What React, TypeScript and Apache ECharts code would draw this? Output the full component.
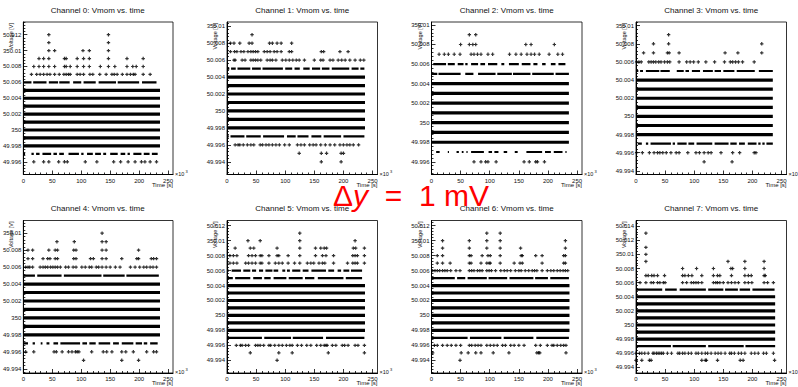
import React, { useEffect, useRef } from "react";
import * as echarts from "echarts";

const FONT = "'Liberation Sans', Arial, Helvetica, sans-serif";

const channelTitles = [
  "Channel 0: Vmom vs. time",
  "Channel 1: Vmom vs. time",
  "Channel 2: Vmom vs. time",
  "Channel 3: Vmom vs. time",
  "Channel 4: Vmom vs. time",
  "Channel 5: Vmom vs. time",
  "Channel 6: Vmom vs. time",
  "Channel 7: Vmom vs. time",
];

// time axis in units of 10^3 s; voltage in mV offset from 350 V
const tEnd = [236, 237, 236, 235, 236, 237, 237, 239];
const yMin = [-5.6, -7.5, -5.3, -6.4, -6.5, -7.7, -7.7, -6.8];
const yMax = [13.6, 10.5, 10.3, 10.4, 11.5, 12.7, 12.7, 14.8];
const xMax = 258.5;

const xTickValues = [0, 50, 100, 150, 200, 250];
const xTickLabels = ["0", "50", "100", "150", "200", "250"];
const xMinorTickValues = [10, 20, 30, 40, 60, 70, 80, 90, 110, 120, 130, 140, 160, 170, 180, 190, 210, 220, 230, 240];
const yTickValues = [-6, -4, -2, 0, 2, 4, 6, 8, 10, 12, 14];
const yTickLabels = ["49.994", "49.996", "49.998", "350", "50.002", "50.004", "50.006", "50.008", "350.01", "50.012", "50.014"];

type Runs = [number, number[][]][];
type Pts = [number, number[]][];

// ---------- Channel 0 ----------
const ch0Dense = [5, 4, 3, 2, 1, 0, -1, -2];
const ch0Runs: Runs = [
  [6, [[0, 14], [17, 40], [44, 60], [62, 80], [86, 100], [104, 125], [130, 160], [163, 200], [205, 230]]],
  [-3, [[0, 3], [14, 18], [22, 28], [33, 48], [52, 58], [62, 70], [78, 96], [100, 104], [110, 120], [124, 134], [138, 143], [150, 163], [168, 176], [180, 184], [190, 204], [208, 218], [222, 232]]],
];
const ch0Pts: Pts = [
  [12, [44, 147]],
  [11, [44, 147]],
  [10, [44, 54, 103, 114, 147]],
  [9, [27, 35, 44, 71, 74, 93, 104, 114, 147, 179, 207]],
  [8, [18, 27, 35, 44, 54, 71, 74, 81, 93, 104, 114, 133, 147, 158, 179, 189, 195, 207]],
  [7, [14, 23, 29, 35, 41, 46, 54, 62, 70, 74, 78, 81, 93, 98, 104, 115, 120, 132, 143, 153, 157, 162, 171, 179, 185, 190, 193, 207, 219]],
  [-4, [18, 35, 44, 61, 71, 76, 107, 127, 156, 168, 181, 193, 204, 210, 219, 230]],
];

// ---------- Channel 1 ----------
const ch1Dense = [4, 3, 2, 1, 0, -1, -2];
const ch1Runs: Runs = [
  [5, [[0, 4], [7, 15], [18, 40], [43, 58], [61, 96], [100, 112], [116, 125], [131, 142], [146, 160], [163, 176], [180, 210], [214, 226], [229, 236]]],
  [-3, [[0, 3], [6, 30], [33, 58], [62, 98], [103, 118], [121, 140], [145, 162], [166, 196], [200, 236]]],
];
const ch1Pts: Pts = [
  [9, [43]],
  [8, [6, 12, 22, 38, 43, 73, 78, 86, 93, 111]],
  [7, [6, 13, 17, 24, 29, 36, 41, 45, 49, 53, 64, 69, 74, 81, 86, 93, 107, 111, 162, 166, 194, 208]],
  [6, [12, 14, 26, 31, 41, 45, 49, 53, 58, 69, 74, 78, 84, 95, 101, 107, 113, 119, 124, 133, 150, 161, 165, 177, 182, 191, 197, 203, 211, 220, 229, 235]],
  [-4, [14, 19, 22, 28, 35, 41, 46, 57, 61, 67, 72, 78, 84, 90, 99, 107, 121, 127, 133, 142, 148, 153, 161, 169, 177, 185, 194, 200, 206, 211, 217, 226]],
  [-5, [124, 162, 171, 196, 200]],
  [-6, [162, 196]],
];

// ---------- Channel 2 ----------
const ch2Dense = [4, 3, 2, 1, 0, -1, -2];
const ch2Runs: Runs = [
  [6, [[3, 25], [28, 40], [45, 55], [58, 62], [68, 80], [84, 92], [97, 113], [120, 125], [133, 150], [155, 170], [175, 182], [190, 196], [205, 213], [218, 230]]],
  [5, [[0, 10], [12, 50], [58, 72], [80, 110], [113, 138], [140, 170], [173, 210], [213, 236]]],
  [-3, [[8, 14], [28, 30], [43, 47], [52, 55], [60, 62], [68, 90], [98, 104], [108, 115], [124, 130], [143, 148], [163, 190], [195, 205], [210, 225], [230, 232]]],
];
const ch2Pts: Pts = [
  [9, [65, 76]],
  [8, [50, 65, 71, 76, 162, 171, 211]],
  [7, [13, 22, 29, 39, 49, 68, 73, 79, 85, 97, 105, 134, 145, 154, 164, 171, 177, 185, 202, 217, 225]],
  [-4, [73, 85, 93, 97, 111, 159, 168, 179, 182, 194]],
];

// ---------- Channel 3 ----------
const ch3Dense = [4, 3, 2, 1, 0, -1, -2];
const ch3Runs: Runs = [
  [5, [[0, 4], [7, 12], [17, 40], [42, 58], [70, 82], [85, 91], [96, 110], [115, 132], [135, 146], [150, 169], [173, 204], [211, 235]]],
  [-3, [[3, 10], [17, 21], [25, 60], [63, 67], [71, 87], [90, 100], [104, 131], [135, 159], [162, 173], [177, 187], [192, 207], [210, 214], [217, 221], [224, 235]]],
];
const ch3Pts: Pts = [
  [9, [56]],
  [8, [30, 56, 216]],
  [7, [13, 30, 54, 57, 74, 153, 175, 216]],
  [6, [1, 5, 9, 22, 26, 30, 34, 39, 43, 49, 54, 58, 74, 87, 93, 99, 107, 120, 135, 152, 162, 166, 171, 176, 183, 203]],
  [-4, [1, 11, 23, 31, 37, 41, 46, 52, 60, 69, 74, 89, 103, 109, 117, 124, 129, 146, 166, 178, 203, 206]],
  [-5, [117, 165]],
];

// ---------- Channel 4 ----------
const ch4Dense = [4, 3, 2, 1, 0, -1, -2];
const ch4Runs: Runs = [
  [5, [[0, 20], [24, 66], [70, 135], [138, 175], [178, 234]]],
  [-3, [[0, 8], [16, 20], [30, 33], [40, 45], [52, 60], [64, 98], [102, 110], [114, 125], [130, 150], [155, 165], [170, 190], [194, 205], [208, 214], [219, 232]]],
];
const ch4Pts: Pts = [
  [10, [136]],
  [9, [58, 88, 136, 143]],
  [8, [8, 16, 44, 55, 59, 87, 91, 136, 143, 199]],
  [7, [8, 16, 34, 42, 46, 55, 59, 87, 91, 116, 121, 136, 143, 170, 196, 199, 221, 225, 230]],
  [6, [4, 8, 11, 16, 29, 34, 38, 42, 47, 51, 55, 59, 64, 73, 78, 86, 91, 101, 107, 114, 118, 126, 130, 136, 143, 150, 159, 167, 185, 193, 201, 208, 213, 219, 224, 230]],
  [-4, [4, 18, 53, 57, 67, 78, 84, 90, 93, 96, 118, 138, 144, 153, 170, 177, 190, 213, 225, 230]],
  [-5, [104, 170, 199]],
];

// ---------- Channel 5 ----------
const ch5Dense = [4, 3, 2, 1, 0, -1, -2];
const ch5Runs: Runs = [
  [6, [[0, 3], [8, 24], [28, 40], [43, 50], [55, 62], [66, 78], [80, 88], [95, 100], [103, 108], [112, 126], [130, 140], [145, 170], [174, 184], [190, 196], [200, 210], [213, 232]]],
  [5, [[0, 10], [14, 40], [45, 60], [64, 75], [80, 102], [106, 130], [134, 150], [156, 200], [204, 232]]],
  [-3, [[0, 60], [64, 110], [113, 165], [170, 236]]],
];
const ch5Pts: Pts = [
  [11, [125]],
  [10, [36, 57, 125, 220]],
  [9, [14, 40, 46, 86, 125, 152, 161, 167, 171, 217, 221, 236]],
  [8, [5, 11, 17, 37, 43, 49, 57, 60, 72, 86, 89, 105, 125, 152, 164, 170, 183, 216, 220, 224, 236]],
  [7, [5, 11, 17, 32, 37, 43, 49, 57, 60, 72, 83, 89, 95, 105, 116, 125, 138, 144, 149, 158, 164, 168, 183, 207, 216, 220, 224, 236]],
  [-4, [16, 23, 26, 32, 37, 49, 53, 57, 63, 72, 75, 82, 89, 95, 102, 108, 112, 121, 128, 137, 144, 154, 161, 167, 170, 172, 181, 187, 198, 202, 208, 220, 225, 236]],
  [-5, [40, 89, 112, 174, 236]],
  [-6, [86]],
];

// ---------- Channel 6 ----------
const ch6Dense = [4, 3, 2, 1, 0, -1, -2];
const ch6Runs: Runs = [
  [5, [[0, 40], [44, 58], [62, 95], [98, 130], [134, 175], [178, 200], [204, 236]]],
  [-3, [[0, 62], [66, 120], [124, 175], [180, 236]]],
];
const ch6Pts: Pts = [
  [11, [95, 118]],
  [10, [19, 65, 95, 118, 230]],
  [9, [19, 65, 95, 118, 153, 230]],
  [8, [10, 19, 65, 68, 87, 97, 101, 118, 154, 156, 179, 190, 227, 230]],
  [7, [10, 19, 32, 65, 68, 85, 95, 99, 101, 118, 142, 152, 156, 190, 227, 230]],
  [6, [2, 6, 10, 14, 19, 23, 27, 33, 42, 49, 65, 69, 73, 79, 83, 87, 95, 99, 103, 110, 119, 125, 130, 136, 144, 150, 154, 161, 167, 173, 177, 181, 190, 199, 205, 210, 216, 221, 226, 230, 234]],
  [-4, [5, 10, 19, 27, 34, 42, 50, 65, 69, 75, 80, 85, 95, 101, 107, 113, 122, 127, 136, 142, 150, 159, 179, 187, 199, 207, 210, 216, 222, 227, 231]],
  [-5, [2, 51, 63, 76, 85, 106, 133, 181, 184, 186, 231]],
  [-6, [49]],
];

// ---------- Channel 7 ----------
const ch7Dense = [4, 3, 2, 1, 0, -1, -2];
const ch7Runs: Runs = [
  [5, [[0, 45], [50, 70], [75, 120], [124, 150], [153, 175], [178, 196], [200, 238]]],
  [-3, [[0, 60], [63, 120], [124, 185], [188, 239]]],
];
const ch7Pts: Pts = [
  [13, [17]],
  [11, [17]],
  [10, [17]],
  [9, [17, 158, 187, 220]],
  [8, [80, 104, 133, 163, 166, 187, 220]],
  [7, [17, 21, 27, 31, 37, 49, 80, 84, 90, 96, 113, 133, 140, 144, 164, 187, 193, 198, 220, 222]],
  [6, [7, 17, 26, 30, 37, 41, 47, 50, 80, 87, 95, 99, 103, 107, 113, 133, 137, 140, 144, 150, 158, 164, 170, 176, 187, 193, 199, 220, 226, 236]],
  [-4, [0, 6, 10, 15, 21, 29, 31, 35, 38, 41, 44, 47, 54, 61, 72, 75, 80, 84, 90, 95, 103, 107, 113, 119, 123, 129, 136, 141, 146, 153, 161, 164, 169, 176, 181, 187, 198, 204, 210, 219, 224, 236]],
  [-5, [0, 10, 23, 26, 113, 119, 121, 140, 179, 184, 238]],
];

const allDense = [ch0Dense, ch1Dense, ch2Dense, ch3Dense, ch4Dense, ch5Dense, ch6Dense, ch7Dense];
const allRuns = [ch0Runs, ch1Runs, ch2Runs, ch3Runs, ch4Runs, ch5Runs, ch6Runs, ch7Runs];
const allPts = [ch0Pts, ch1Pts, ch2Pts, ch3Pts, ch4Pts, ch5Pts, ch6Pts, ch7Pts];

// layout
const colLeft = [22.5, 227, 431.5, 636];
const rowTop = [22, 220.5];
const frameW = 150.5;
const frameH = 152.5;

const CROSS = "path://M2.6,0H5.4V2.6H8V5.4H5.4V8H2.6V5.4H0V2.6H2.6Z";

function buildOption() {
  const grid: any[] = [];
  const xAxis: any[] = [];
  const yAxis: any[] = [];
  const series: any[] = [];
  const graphic: any[] = [];

  for (let i = 0; i < 8; i++) {
    const col = i % 4;
    const row = Math.floor(i / 4);
    const left = colLeft[col];
    const top = rowTop[row];
    grid.push({
      left, top, width: frameW, height: frameH,
      show: true, borderColor: "#000", borderWidth: 0.8, backgroundColor: "#fff",
    });
    const majorY = yTickValues.filter((v) => v >= yMin[i] && v <= yMax[i]);
    const minorY: number[] = [];
    for (let k = Math.ceil(yMin[i] / 0.4); k <= Math.floor(yMax[i] / 0.4); k++) {
      const v = Math.round(k * 4) / 10;
      if (Math.abs(v / 2 - Math.round(v / 2)) > 1e-6) minorY.push(v);
    }
    const common = { gridIndex: i, splitLine: { show: false } };
    xAxis.push({
      ...common, type: "value", position: "bottom", min: 0, max: xMax,
      axisLine: { show: true, onZero: false, lineStyle: { color: "#000", width: 1 } },
      axisTick: { show: true, inside: true, length: 4, customValues: xTickValues, lineStyle: { color: "#000", width: 0.8 } },
      axisLabel: {
        show: true, customValues: xTickValues, fontSize: 6, color: "#111", margin: 3, fontFamily: FONT,
        formatter: (v: number) => xTickLabels[xTickValues.indexOf(Math.round(v))] ?? "",
      },
    });
    xAxis.push({
      ...common, type: "value", position: "bottom", min: 0, max: xMax,
      axisLine: { show: false, onZero: false },
      axisTick: { show: true, inside: true, length: 2, customValues: xMinorTickValues, lineStyle: { color: "#000", width: 0.8 } },
      axisLabel: { show: false },
    });
    yAxis.push({
      ...common, type: "value", position: "left", min: yMin[i], max: yMax[i],
      axisLine: { show: true, onZero: false, lineStyle: { color: "#000", width: 1 } },
      axisTick: { show: true, inside: true, length: 4, customValues: majorY, lineStyle: { color: "#000", width: 0.8 } },
      axisLabel: {
        show: true, customValues: majorY, fontSize: 6, color: "#111", margin: 2, fontFamily: FONT,
        formatter: (v: number) => yTickLabels[yTickValues.indexOf(Math.round(v))] ?? "",
      },
    });
    yAxis.push({
      ...common, type: "value", position: "left", min: yMin[i], max: yMax[i],
      axisLine: { show: false, onZero: false },
      axisTick: { show: true, inside: true, length: 2, customValues: minorY, lineStyle: { color: "#000", width: 0.8 } },
      axisLabel: { show: false },
    });

    const denseData: any[] = [];
    allDense[i].forEach((lvl) => {
      denseData.push([0, lvl], [tEnd[i], lvl], [tEnd[i], "-"]);
    });
    const runData: any[] = [];
    allRuns[i].forEach(([lvl, runs]) => {
      runs.forEach(([a, b]) => {
        runData.push([a, lvl], [b, lvl], [b, "-"]);
      });
    });
    const ptData: any[] = [];
    allPts[i].forEach(([lvl, xs]) => xs.forEach((x) => ptData.push([x, lvl])));

    series.push({
      type: "line", xAxisIndex: 2 * i, yAxisIndex: 2 * i, data: denseData,
      symbol: "none", showSymbol: false, connectNulls: false, silent: true,
      lineStyle: { color: "#000", width: 3.2 },
    });
    series.push({
      type: "line", xAxisIndex: 2 * i, yAxisIndex: 2 * i, data: runData,
      symbol: "none", showSymbol: false, connectNulls: false, silent: true,
      lineStyle: { color: "#000", width: 2.2 },
    });
    series.push({
      type: "scatter", xAxisIndex: 2 * i, yAxisIndex: 2 * i, data: ptData,
      symbol: CROSS, symbolSize: 3.4, silent: true,
      itemStyle: { color: "#000" },
    });

    // texts
    graphic.push({
      type: "text", x: left + frameW / 2, y: top - (row === 0 ? 11.5 : 12.5),
      style: { text: channelTitles[i], fontSize: 8, fontFamily: FONT, fill: "#111", align: "center", verticalAlign: "middle" },
    });
    graphic.push({
      type: "text", x: left - 12, y: top + 1, rotation: Math.PI / 2,
      style: { text: "Voltage [V]", fontSize: 5.5, fontFamily: FONT, fill: "#111", align: "right", verticalAlign: "middle" },
    });
    graphic.push({
      type: "text", x: left + frameW, y: top + frameH + 10,
      style: { text: "Time [s]", fontSize: 6, fontFamily: FONT, fill: "#111", align: "right", verticalAlign: "middle" },
    });
    graphic.push({
      type: "text", x: left + frameW + 2, y: top + frameH - 1,
      style: { text: "×10", fontSize: 5.5, fontFamily: FONT, fill: "#111", align: "left", verticalAlign: "middle" },
    });
    graphic.push({
      type: "text", x: left + frameW + 12.5, y: top + frameH - 3.5,
      style: { text: "3", fontSize: 4, fontFamily: FONT, fill: "#111", align: "left", verticalAlign: "middle" },
    });
  }

  graphic.push({
    type: "text", x: 333, y: 195, z: 100,
    style: {
      text: "{a|Δ}{b|y}{a|  =  1 mV}",
      fontSize: 30, fontFamily: FONT, fill: "#ff0000", verticalAlign: "middle", align: "left",
      rich: {
        a: { fontSize: 30, fontFamily: FONT, fill: "#ff0000" },
        b: { fontSize: 30, fontFamily: FONT, fontStyle: "italic", fill: "#ff0000" },
      },
    },
  });

  return {
    animation: false,
    backgroundColor: "#fff",
    grid, xAxis, yAxis, series, graphic,
  };
}

export default function App() {
  const ref = useRef<HTMLDivElement>(null);
  useEffect(() => {
    document.body.style.margin = "0";
    const chart = echarts.init(ref.current!, null, { renderer: "svg" });
    chart.setOption(buildOption() as any);
    return () => chart.dispose();
  }, []);
  return <div ref={ref} style={{ width: 798, height: 387 }} />;
}
